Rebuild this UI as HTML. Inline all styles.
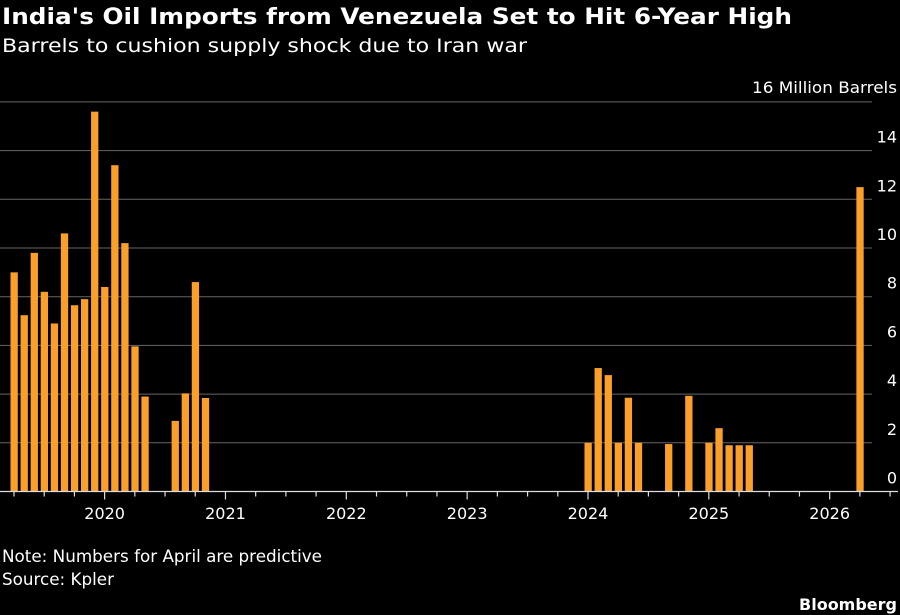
<!DOCTYPE html>
<html><head><meta charset="utf-8"><style>
html,body{margin:0;padding:0;background:#000;}
svg{display:block;}
text{font-family:"DejaVu Sans","Liberation Sans",sans-serif;fill:#fff;}
</style></head><body>
<svg id="s" width="900" height="615" viewBox="0 0 900 615" xmlns="http://www.w3.org/2000/svg">
<rect width="900" height="615" fill="#000"/>
<text x="2" y="24" font-size="22" font-weight="bold" textLength="790" lengthAdjust="spacingAndGlyphs">India's Oil Imports from Venezuela Set to Hit 6-Year High</text>
<text x="2" y="52" font-size="19" textLength="525" lengthAdjust="spacingAndGlyphs">Barrels to cushion supply shock due to Iran war</text>
<text x="897" y="93" font-size="16" text-anchor="end" textLength="145" lengthAdjust="spacingAndGlyphs">16 Million Barrels</text>
<g id="grid" stroke="#666" stroke-width="1"></g>
<g id="bars" fill="#fb9f2b"></g>
<g id="ax"></g>
<text x="2" y="562" font-size="16.5" textLength="320" lengthAdjust="spacingAndGlyphs">Note: Numbers for April are predictive</text>
<text x="2" y="585" font-size="16.5" textLength="112" lengthAdjust="spacingAndGlyphs">Source: Kpler</text>
<text x="897" y="610" font-size="16" font-weight="bold" text-anchor="end">Bloomberg</text>
</svg>
<script>
var NS="http://www.w3.org/2000/svg";
function el(p,t,a,txt){var e=document.createElementNS(NS,t);for(var k in a)e.setAttribute(k,a[k]);if(txt!==undefined)e.textContent=txt;document.getElementById(p).appendChild(e);}
var y0=491.5,k=24.35;
for(var v=0;v<=16;v+=2){var y=y0-v*k;
 if(v>0)el("grid","line",{x1:0,x2:872,y1:y,y2:y});
 if(v<16)el("ax","text",{x:897,y:y-8,"font-size":16,"text-anchor":"end"},String(v));}
var d={0:9,1:7.24,2:9.8,3:8.2,4:6.9,5:10.6,6:7.65,7:7.9,8:15.6,9:8.4,10:13.4,11:10.2,12:5.96,13:3.9,
16:2.9,17:4.03,18:8.6,19:3.84,
57:2,58:5.07,59:4.78,60:2,61:3.85,62:2,65:1.95,67:3.93,69:2,70:2.6,71:1.9,72:1.9,73:1.9,84:12.5};
for(var i in d){var x=10.5+10.07*i;el("bars","rect",{x:x,width:7.3,y:y0-d[i]*k,height:d[i]*k});}
el("ax","line",{x1:0,x2:898,y1:y0,y2:y0,stroke:"#ddd","stroke-width":1.3});
for(var m=0;m<=87;m+=3){var x=14+10.07*m;var yr=(m-9)%12==0;
 el("ax","line",{x1:x,x2:x,y1:y0,y2:y0+(yr?8:5),stroke:"#ddd","stroke-width":1.2});
 if(yr)el("ax","text",{x:x,y:519,"font-size":16,"text-anchor":"middle"},String(2020+(m-9)/12));}
</script>
</body></html>
